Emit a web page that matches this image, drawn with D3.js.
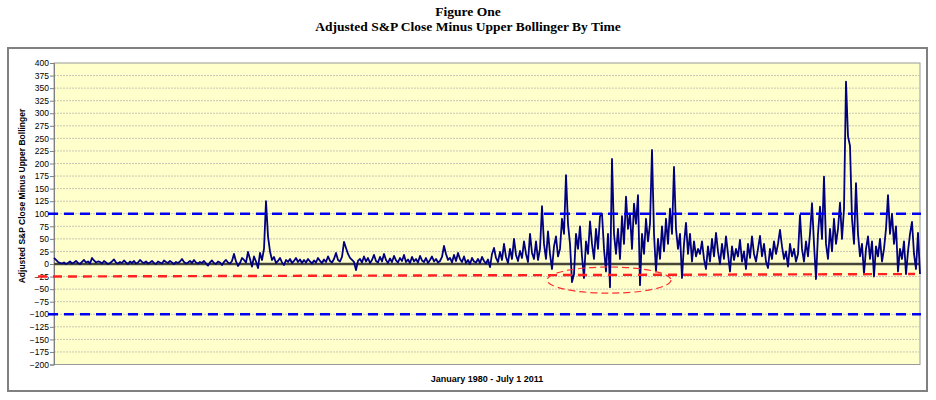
<!DOCTYPE html>
<html>
<head>
<meta charset="utf-8">
<script src="https://cdn.jsdelivr.net/npm/d3@7"></script>
<style>
  body { margin: 0; background: #fff; }
  svg { display: block; }
  .tick text { font-family: "Liberation Sans", Arial, sans-serif; font-size: 8.5px; fill: #000; }
</style>
</head>
<body>
<div id="chart"></div>
<script>
// Daily series, sampled along the time axis (Jan 1980 - Jul 2011)
var diffs = [
  12, 8, 4, 2, 1, 3, 0, 2, 5, 1, 3, 6, 2, 0, 4, 8, 3, 5, 1, 12, 7, 3, 5,
  4, 1, 6, 3, 0, 2, 5, 9, 3, 1, 4, 2, 7, 3, 0, 5, 2, 6, 1, 3, 8, 4, 2, 5, 1,
  3, 6, 2, 0, 5, 3, 1, 7, 4, 2, 6, 3, 0, 4, 2, 5, 10, 4, 1, 3, 6, 2, 8, 3, 1,
  4, 2, 6, 1, -3, 3, 7, 2, 0, 5, 3, -2, 4, 8, 3, 1, 6, 20, 5, -4, 2, 12, 8, 3, 24, 10, -5, 15, 5, -8, 22,
  8, 30, 125, 55, 25, 8, 14, 2, 6, 12, 3, -2, 8, 4, 10, 2, 6, 12, 4, 9,
  2, 8, 3, 10, 5, 1, 7, 3, 12, 6, 2, 9, 4, 15, 6, 3, 10, 22, 8, 5, 14, 44, 32, 20, 12, 8, 4, -12, 6, 10,
  3, 15, 5, 12, 2, 8, 18, 6, 3, 14, 5, 20, 8, 2, 11, 4, 16, 7, 3, 12,
  6, 18, 4, 9, 2, 14, 5, 10, 3, 16, 7, 4, 12, 2, 8, 15, 5, 10, 3, 6,
  14, 36, 20, 8, 12, 3, 18, 6, 22, 10, 4, 15, 2, 8, 0, 12, 5, 3, 10, 2, 14, 6, 1, 9, -6,
  20, 32, 12, 4, 24, 8, 40, 14, 2, 30, 10, 50, 18, 6, 26, 12, 45, 20, 4, 60, 22, 10, 45, 8, 30,
  115, 40, 10, 65, 20, -10, 35, 55, 15, 30, 90, 60, 177, 80, 40, -36, -20, 60, 30, 75, 15, -28, 45, 20, 85, 40, 10, 70, 30, 95,
  100, 30, -15, 60, -46, 209, 60, 20, 70, 10, 95, 40, 134, 70, 100, 30, 120, 80, 137, -42,
  60, 20, 90, 45, 80, 227, 60, -15, 50, 10, 75, 25, 90, 40, 110, 60, 193, 70, 30, 60,
  -28, 40, 82, 20, 60, 5, 45, 15, 30, 20,
  45, 10, -10, 35, 5, 50, 15, 62, 25, 0, 40, 10, 55, 20, -15, 35, 8, 30, 15, 48, 5, 25, -10, 40, 12, 55, 20, 5, 30, 56,
  15, 40, 5, -8, 30, 10, 45, 20, 40, 68, 35, 10, 25, -5, 40, 15, 30, 5, 20, 97,
  30, 5, 45, 15, 60, 121, 40, -30, 60, 114, 50, 174, 40, 10, 70, 25, 90, 40, 70, 122,
  50, 110, 363, 254, 235, 90, 40, 161, 60, 15,
  40, -20, 30, 55, 10, 45, -25, 35, 15, 50, 5, 30, 70, 137, 60, 100, 40, 75, -15, 30, 10, 45, -20, 25, 60, 84, 20, -10, 62, -20
];
var yTicks = d3.range(-200, 401, 25);
var blueLevels = [100, -100];
var redLevel = [-25, -20];          // hand drawn, slightly tilted
var circled = { at: 277.5, value: -32, halfSpan: 31, halfHeight: 26 };

var titleLines = ['Figure One', 'Adjusted S&P Close Minus Upper Bollinger By Time'];
var yTitle = 'Adjusted S&P Close Minus Upper Bollinger';
var xTitle = 'January 1980 - July 1 2011';

var width = 936, height = 400;
var svg = d3.select('#chart').append('svg').attr('width', width).attr('height', height);

// titles
svg.selectAll('.title').data(titleLines).enter().append('text')
  .attr('x', 468).attr('y', function (d, i) { return 16 + i * 15; })
  .attr('text-anchor', 'middle')
  .style('font-family', '"Liberation Serif", "Times New Roman", serif')
  .style('font-weight', 'bold').style('font-size', '13.5px')
  .text(function (d) { return d; });

// chart frame
svg.append('rect').attr('x', 8).attr('y', 48).attr('width', 919).attr('height', 343)
  .attr('fill', '#fff').attr('stroke', '#808080').attr('stroke-width', 2);

var x = d3.scaleLinear().domain([0, diffs.length - 1]).range([54, 920]);
var y = d3.scaleLinear().domain([-200, 400]).range([364.5, 63]);

// plot area
svg.append('rect').attr('x', 54).attr('y', 63).attr('width', 866).attr('height', y(-200) - y(400))
  .attr('fill', '#ffffcc').attr('stroke', '#999').attr('stroke-width', 1);

// gridlines
svg.append('g').selectAll('line').data(yTicks.filter(function (d) { return d !== 0 && d !== 400 && d !== -200; }))
  .enter().append('line')
  .attr('x1', 54).attr('x2', 920)
  .attr('y1', function (d) { return y(d); }).attr('y2', function (d) { return y(d); })
  .attr('stroke', '#c8c6b4').attr('stroke-width', 1).attr('stroke-dasharray', '2,1');

// y axis
var yAxis = svg.append('g').attr('transform', 'translate(54,0)')
  .call(d3.axisLeft(y).tickValues(yTicks).tickSize(4).tickPadding(1));
yAxis.select('.domain').attr('stroke', '#808080');
yAxis.selectAll('.tick line').attr('stroke', '#808080');

// zero line
svg.append('line').attr('x1', 54).attr('x2', 920).attr('y1', y(0)).attr('y2', y(0))
  .attr('stroke', '#45453a').attr('stroke-width', 2.5);

// series
var line = d3.line().x(function (d, i) { return x(i); }).y(function (d) { return y(d); });
svg.append('path').datum(diffs).attr('d', line)
  .attr('fill', 'none').attr('stroke', '#000080').attr('stroke-width', 1.8)
  .attr('stroke-linejoin', 'round');

// blue reference lines
svg.selectAll('.blue').data(blueLevels).enter().append('line')
  .attr('x1', 48).attr('x2', 921)
  .attr('y1', function (d) { return y(d); }).attr('y2', function (d) { return y(d); })
  .attr('stroke', '#0000ee').attr('stroke-width', 2.6).attr('stroke-dasharray', '10,6');

// red reference line
svg.append('line').attr('x1', 38).attr('x2', 915)
  .attr('y1', y(redLevel[0])).attr('y2', y(redLevel[1]))
  .attr('stroke', '#ff2020').attr('stroke-width', 2.4).attr('stroke-dasharray', '9,6');

// circled area
svg.append('ellipse')
  .attr('cx', x(circled.at)).attr('cy', y(circled.value))
  .attr('rx', x(circled.at + circled.halfSpan) - x(circled.at))
  .attr('ry', y(circled.value - circled.halfHeight) - y(circled.value))
  .attr('fill', 'none').attr('stroke', '#ff3030').attr('stroke-width', 1.2).attr('stroke-dasharray', '7,4');

// axis titles
svg.append('text').attr('transform', 'translate(25,196)rotate(-90)')
  .attr('text-anchor', 'middle')
  .style('font-family', '"Liberation Sans", Arial, sans-serif')
  .style('font-weight', 'bold').style('font-size', '8.5px')
  .text(yTitle);

svg.append('text').attr('x', 487).attr('y', 382).attr('text-anchor', 'middle')
  .style('font-family', '"Liberation Sans", Arial, sans-serif')
  .style('font-weight', 'bold').style('font-size', '9px')
  .text(xTitle);
</script>
</body>
</html>
